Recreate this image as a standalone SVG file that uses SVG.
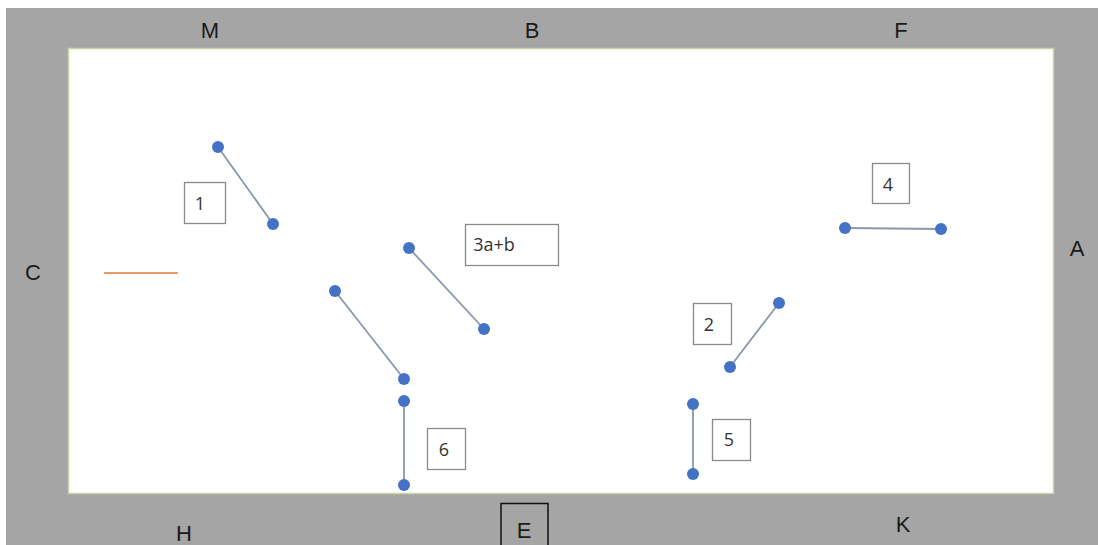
<svg xmlns="http://www.w3.org/2000/svg" width="1098" height="545" viewBox="0 0 1098 545">
<style>
.lbl{font-family:"Liberation Sans",Arial,sans-serif;font-size:22px;fill:#1a1a1a;text-anchor:middle}
.box{fill:#fff;stroke:#8a8a8a;stroke-width:1.3}
.bt{font-family:"Open Sans","Liberation Sans",sans-serif;font-size:18px;fill:#333;text-anchor:middle}
.seg{stroke:#8a96aa;stroke-width:1.8}
.dot{fill:#4472c4}
</style>
<rect x="0" y="0" width="1098" height="545" fill="#fff"/>
<rect x="6" y="8" width="1092" height="537" fill="#a5a5a5"/>
<rect x="68.5" y="48.5" width="985" height="445" fill="#fff" stroke="#c6d6a8" stroke-width="1.5"/>
<g id="field-labels">
<text class="lbl" x="210" y="38">M</text>
<text class="lbl" x="532" y="38">B</text>
<text class="lbl" x="901" y="38">F</text>
<text class="lbl" x="33" y="280">C</text>
<text class="lbl" x="1077" y="256">A</text>
<text class="lbl" x="184" y="541">H</text>
<text class="lbl" x="903" y="532">K</text>
</g>
<g id="E">
<rect x="501" y="503.5" width="47" height="45" fill="none" stroke="#111" stroke-width="1.5"/>
<text class="lbl" x="524" y="538">E</text>
</g>
<line x1="104" y1="273" x2="178" y2="273" stroke="#e07a3a" stroke-width="1.5"/>
<g id="connectors">
<line class="seg" x1="218" y1="147" x2="273" y2="224"/>
<line class="seg" x1="409" y1="248" x2="484" y2="329"/>
<line class="seg" x1="335" y1="291" x2="404" y2="379"/>
<line class="seg" x1="404" y1="401" x2="404" y2="485"/>
<line class="seg" x1="845" y1="228" x2="941" y2="229"/>
<line class="seg" x1="779" y1="303" x2="730" y2="367"/>
<line class="seg" x1="693" y1="404" x2="693" y2="474"/>
</g>
<g id="dots">
<circle class="dot" cx="218" cy="147" r="6"/><circle class="dot" cx="273" cy="224" r="6"/>
<circle class="dot" cx="409" cy="248" r="6"/><circle class="dot" cx="484" cy="329" r="6"/>
<circle class="dot" cx="335" cy="291" r="6"/><circle class="dot" cx="404" cy="379" r="6"/>
<circle class="dot" cx="404" cy="401" r="6"/><circle class="dot" cx="404" cy="485" r="6"/>
<circle class="dot" cx="845" cy="228" r="6"/><circle class="dot" cx="941" cy="229" r="6"/>
<circle class="dot" cx="779" cy="303" r="6"/><circle class="dot" cx="730" cy="367" r="6"/>
<circle class="dot" cx="693" cy="404" r="6"/><circle class="dot" cx="693" cy="474" r="6"/>
</g>
<g id="box1"><rect class="box" x="184.5" y="182.5" width="41" height="41"/><text class="bt" x="200" y="210">1</text></g>
<g id="box3ab"><rect class="box" x="465.5" y="224.5" width="93" height="41"/><text class="bt" x="494" y="251">3a+b</text></g>
<g id="box4"><rect class="box" x="872.5" y="163.5" width="37" height="40"/><text class="bt" x="888" y="191">4</text></g>
<g id="box2"><rect class="box" x="693.5" y="303.5" width="38" height="41"/><text class="bt" x="709" y="331">2</text></g>
<g id="box6"><rect class="box" x="427.5" y="428.5" width="38" height="41"/><text class="bt" x="444" y="456">6</text></g>
<g id="box5"><rect class="box" x="712.5" y="419.5" width="38" height="41"/><text class="bt" x="729" y="446">5</text></g>
</svg>
